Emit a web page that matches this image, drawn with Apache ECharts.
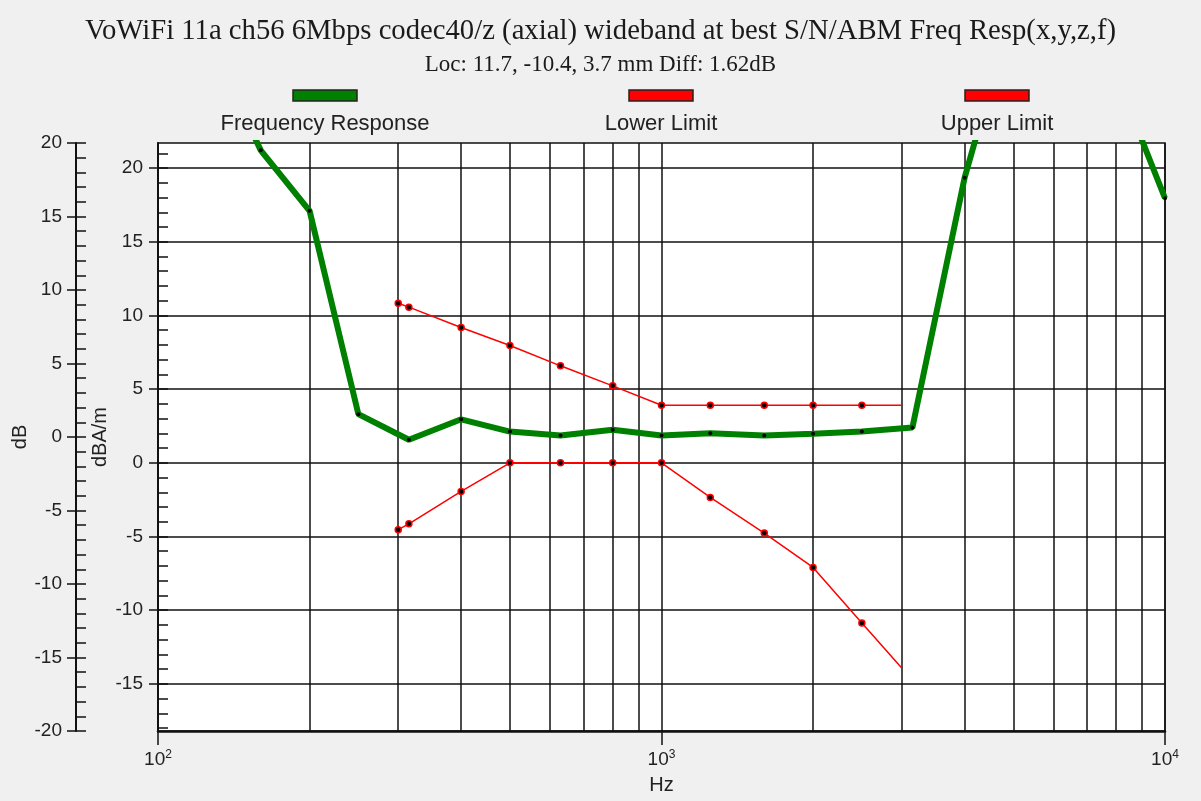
<!DOCTYPE html>
<html>
<head>
<meta charset="utf-8">
<script src="https://cdn.jsdelivr.net/npm/echarts@6/dist/echarts.min.js"></script>
<style>
	html,body{margin:0;padding:0;background:#f0f0f0}
	#chart{width:1201px;height:801px}
</style>
</head>
<body>
<div id="chart"></div>
<script>
// frequency response (1/3 octave points), dBA/m scale
var respFreq = [125, 160, 200, 250, 315, 400, 500, 630, 800, 1000, 1250, 1600, 2000, 2500, 3150, 4000, 5000, 6300, 8000, 10000];
var respVal  = [29.0, 21.2, 17.1, 3.3, 1.56, 2.95, 2.12, 1.85, 2.24, 1.85, 2.0, 1.85, 1.97, 2.12, 2.39, 19.35, 31.0, 31.0, 26.3, 17.95];

// mask limits
var limFreq  = [300, 315, 400, 500, 630, 800, 1000, 1250, 1600, 2000, 2500, 3000];
var upperVal = [10.83, 10.56, 9.18, 7.96, 6.58, 5.22, 3.9, 3.9, 3.9, 3.9, 3.9, 3.9];
var lowerVal = [-4.54, -4.14, -1.94, 0, 0, 0, 0, -2.35, -4.77, -7.1, -10.87, -13.93];

// axis ticks
var dbamTicks = [-15, -10, -5, 0, 5, 10, 15, 20];
var dbamMinor = [];
for (var i = -18; i <= 21; i++) dbamMinor.push(i);
var gridFreq  = [200, 300, 400, 500, 600, 700, 800, 900, 2000, 3000, 4000, 5000, 6000, 7000, 8000, 9000];

var sans = 'Liberation Sans';
var ink = '#1a1a1a';

function pairs(xs, ys, lastNoDot) {
	var out = [];
	for (var i = 0; i < xs.length; i++) {
		var d = {value: [xs[i], ys[i]]};
		if (lastNoDot && i == xs.length - 1) d.symbol = 'none';
		out.push(d);
	}
	return out;
}

var myChart = echarts.init(document.getElementById('chart'));

var option = {
	backgroundColor: '#f0f0f0',
	animation: false,
	title: [
		{
			text: 'VoWiFi 11a ch56 6Mbps codec40/z (axial) wideband at best S/N/ABM Freq Resp(x,y,z,f)',
			left: 'center', top: 12,
			textStyle: {fontFamily: 'Liberation Serif', fontSize: 28.7, fontWeight: 'normal', color: ink}
		},
		{
			text: 'Loc: 11.7, -10.4, 3.7 mm Diff: 1.62dB',
			left: 'center', top: 48,
			textStyle: {fontFamily: 'Liberation Serif', fontSize: 23, fontWeight: 'normal', color: ink}
		}
	],
	graphic: [
		{type: 'rect', shape: {x: 293, y: 90, width: 64, height: 11}, style: {fill: '#008000', stroke: '#222', lineWidth: 1.5}},
		{type: 'text', x: 325, y: 124, style: {text: 'Frequency Response', font: '22px ' + sans, fill: '#222', align: 'center', verticalAlign: 'middle'}},
		{type: 'rect', shape: {x: 629, y: 90, width: 64, height: 11}, style: {fill: '#ff0000', stroke: '#222', lineWidth: 1.5}},
		{type: 'text', x: 661, y: 124, style: {text: 'Lower Limit', font: '22px ' + sans, fill: '#222', align: 'center', verticalAlign: 'middle'}},
		{type: 'rect', shape: {x: 965, y: 90, width: 64, height: 11}, style: {fill: '#ff0000', stroke: '#222', lineWidth: 1.5}},
		{type: 'text', x: 997, y: 124, style: {text: 'Upper Limit', font: '22px ' + sans, fill: '#222', align: 'center', verticalAlign: 'middle'}}
	],
	grid: {
		left: 158, right: 36, top: 143, bottom: 70,
		containLabel: false, outerBoundsMode: 'none',
		show: true, backgroundColor: '#fff', borderColor: '#111', borderWidth: 1.5
	},
	xAxis: {
		type: 'log', logBase: 10, min: 100, max: 10000,
		name: 'Hz', nameLocation: 'middle', nameGap: 44,
		nameTextStyle: {fontFamily: sans, fontSize: 20, color: '#222'},
		axisLine: {onZero: false, lineStyle: {color: '#111', width: 2.5}},
		axisTick: {length: 14, lineStyle: {color: '#111', width: 1.5}},
		axisLabel: {
			margin: 18,
			formatter: function (v) { return '{b|10}{s|' + Math.round(Math.log10(v)) + '}'; },
			rich: {
				b: {fontFamily: sans, fontSize: 19, color: '#222'},
				s: {fontFamily: sans, fontSize: 12, color: '#222', padding: [0, 0, 9, 0]}
			}
		},
		splitLine: {show: true, lineStyle: {color: '#111', width: 1.5}}
	},
	yAxis: [
		{   // dB, labels + outer ticks
			type: 'value', position: 'left', offset: 82, min: -20, max: 20, interval: 5,
			name: 'dB', nameLocation: 'middle', nameGap: 46, nameRotate: 90, nameMoveOverlap: false,
			nameTextStyle: {fontFamily: sans, fontSize: 20, color: '#222'},
			axisLine: {show: true, onZero: false, lineStyle: {color: '#111', width: 2}},
			axisTick: {length: 9, lineStyle: {color: '#111', width: 1.5}},
			axisLabel: {margin: 14, fontFamily: sans, fontSize: 19, color: '#222'},
			splitLine: {show: false}
		},
		{   // dB minor ticks
			type: 'value', position: 'left', offset: 82, min: -20, max: 20, interval: 1,
			axisLine: {show: false, onZero: false},
			axisTick: {inside: true, length: 10, lineStyle: {color: '#111', width: 1.5}},
			axisLabel: {show: false},
			splitLine: {show: false}
		},
		{   // dBA/m, labels + outer ticks
			type: 'value', position: 'left', offset: 0, min: -18.2, max: 21.7,
			name: 'dBA/m', nameLocation: 'middle', nameGap: 48, nameRotate: 90, nameMoveOverlap: false,
			nameTextStyle: {fontFamily: sans, fontSize: 20, color: '#222'},
			axisLine: {show: true, onZero: false, lineStyle: {color: '#111', width: 2}},
			axisTick: {length: 9, customValues: dbamTicks, lineStyle: {color: '#111', width: 1.5}},
			axisLabel: {margin: 15, customValues: dbamTicks, fontFamily: sans, fontSize: 19, color: '#222'},
			splitLine: {show: false}
		},
		{   // dBA/m minor ticks
			type: 'value', position: 'left', offset: 0, min: -18.2, max: 21.7,
			axisLine: {show: false, onZero: false},
			axisTick: {inside: true, length: 10, customValues: dbamMinor, lineStyle: {color: '#111', width: 1.5}},
			axisLabel: {show: false},
			splitLine: {show: false}
		}
	],
	series: [
		{
			name: 'grid', type: 'line', yAxisIndex: 2, data: [], silent: true,
			markLine: {
				silent: true, symbol: 'none', z: 1, animation: false,
				label: {show: false},
				lineStyle: {color: '#111', width: 1.5, type: 'solid'},
				emphasis: {disabled: true},
				data: gridFreq.map(function (f) { return {xAxis: f}; })
					.concat(dbamTicks.map(function (v) { return {yAxis: v}; }))
			}
		},
		{
			name: 'Upper Limit', type: 'line', yAxisIndex: 2,
			data: pairs(limFreq, upperVal, true),
			symbol: 'circle', symbolSize: 6,
			lineStyle: {color: '#ff0000', width: 1.5},
			itemStyle: {color: '#000', borderColor: '#ff0000', borderWidth: 1.5}
		},
		{
			name: 'Lower Limit', type: 'line', yAxisIndex: 2,
			data: pairs(limFreq, lowerVal, true),
			symbol: 'circle', symbolSize: 6,
			lineStyle: {color: '#ff0000', width: 1.5},
			itemStyle: {color: '#000', borderColor: '#ff0000', borderWidth: 1.5}
		},
		{
			name: 'Frequency Response', type: 'line', yAxisIndex: 2,
			data: pairs(respFreq, respVal, false),
			symbol: 'circle', symbolSize: 4,
			lineStyle: {color: '#008000', width: 6},
			itemStyle: {color: '#000'}
		}
	]
};

myChart.setOption(option);
</script>
</body>
</html>
